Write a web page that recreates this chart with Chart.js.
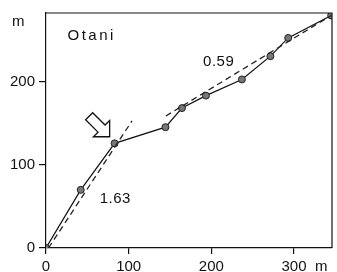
<!DOCTYPE html>
<html>
<head>
<meta charset="utf-8">
<script src="https://cdn.jsdelivr.net/npm/chart.js@4/dist/chart.umd.min.js"></script>
<style>
html,body{margin:0;padding:0;background:#fff;}
#wrap{width:337px;height:272px;position:relative;}
</style>
</head>
<body>
<div id="wrap"><canvas id="c" width="337" height="272"></canvas></div>
<script>
// Measured series (distance m vs. m)
const xValues = [0, 42, 83, 144.5, 164.5, 193.5, 237, 271.5, 293, 345];
const yValues = [0, 70, 126, 145.5, 168.5, 183.5, 203, 231, 253, 280];
// Fitted dashed lines
const fit1X = [3, 104];
const fit1Y = [0, 153];
const fit2X = [145, 345];
const fit2Y = [159, 280];
// Tick labels
const xTickLabels = ['0', '100', '200', '300'];
const yTickLabels = ['0', '100', '200'];
// Annotation texts
const titleText = 'Otani';
const slope1Label = '1.63';
const slope2Label = '0.59';
const unitLabel = 'm';

const FONT = '"Liberation Sans", Arial, sans-serif';

function pts(xs, ys){ return xs.map((x,i)=>({x:x,y:ys[i]})); }

const annotPlugin = {
  id:'annot',
  afterDraw(chart){
    const ctx = chart.ctx, xs = chart.scales.x, ys = chart.scales.y, a = chart.chartArea;
    ctx.save();
    // frame (top and right)
    ctx.strokeStyle = '#111'; ctx.lineWidth = 1.2;
    ctx.beginPath();
    ctx.moveTo(a.left, a.top); ctx.lineTo(a.right, a.top); ctx.lineTo(a.right, a.bottom);
    ctx.stroke();
    ctx.fillStyle = '#111';
    ctx.font = '15px ' + FONT;
    ctx.textBaseline = 'middle';
    ctx.textAlign = 'left';
    // title
    ctx.letterSpacing = '2.5px';
    ctx.fillText(titleText, xs.getPixelForValue(26), ys.getPixelForValue(256));
    ctx.letterSpacing = '0.5px';
    ctx.fillText(slope2Label, xs.getPixelForValue(190), ys.getPixelForValue(224));
    ctx.fillText(slope1Label, xs.getPixelForValue(65), ys.getPixelForValue(59));
    ctx.letterSpacing = '0px';
    // units
    ctx.fillText(unitLabel, 12, ys.getPixelForValue(272));
    ctx.fillText(unitLabel, xs.getPixelForValue(300) + 21, a.bottom + 19);
    // hollow arrow pointing at the break point
    const tx = xs.getPixelForValue(77), ty = ys.getPixelForValue(134);
    const d = [Math.SQRT1_2, Math.SQRT1_2], p = [Math.SQRT1_2, -Math.SQRT1_2];
    const shape = [[0,0],[-11.5,11.5],[-11.5,5],[-29,5],[-29,-5],[-11.5,-5],[-11.5,-11.5]];
    ctx.beginPath();
    shape.forEach(([al,pe],i)=>{
      const X = tx + al*d[0] + pe*p[0], Y = ty + al*d[1] + pe*p[1];
      if(i===0) ctx.moveTo(X,Y); else ctx.lineTo(X,Y);
    });
    ctx.closePath();
    ctx.fillStyle = '#fff'; ctx.fill();
    ctx.strokeStyle = '#111'; ctx.lineWidth = 1.3; ctx.stroke();
    ctx.restore();
  }
};

function fixTicks(values){
  return function(scale){ scale.ticks = values.map(v=>({value:Number(v)})); };
}

new Chart(document.getElementById('c'), {
  type:'scatter',
  data:{
    datasets:[
      {data:pts(fit1X, fit1Y), showLine:true, borderColor:'#222', borderWidth:1.3, borderDash:[6,4], pointRadius:0, fill:false},
      {data:pts(fit2X, fit2Y), showLine:true, borderColor:'#222', borderWidth:1.3, borderDash:[6,4], pointRadius:0, fill:false},
      {data:pts(xValues, yValues), showLine:true, borderColor:'#111', borderWidth:1.2,
       pointRadius:3.5, pointBackgroundColor:'#777', pointBorderColor:'#222', pointBorderWidth:1, fill:false}
    ]
  },
  options:{
    responsive:false, animation:false,
    layout:{padding:{top:12, right:2, left:0, bottom:0}},
    plugins:{legend:{display:false}, tooltip:{enabled:false}},
    scales:{
      x:{type:'linear', min:0, max:346,
        afterBuildTicks: fixTicks(xTickLabels),
        afterFit(s){ s.height = 24; },
        grid:{drawOnChartArea:false, drawTicks:true, tickLength:6, color:'#111', lineWidth:1.2},
        border:{display:true, color:'#111', width:1.2},
        ticks:{color:'#111', font:{family:FONT, size:15}, padding:4, maxRotation:0,
          callback:(v)=>xTickLabels.includes(String(v)) ? String(v) : ''}
      },
      y:{type:'linear', min:0, max:283,
        afterBuildTicks: fixTicks(yTickLabels),
        afterFit(s){ s.width = 46; },
        grid:{drawOnChartArea:false, drawTicks:true, tickLength:7, color:'#111', lineWidth:1.2},
        border:{display:true, color:'#111', width:1.2},
        ticks:{color:'#111', font:{family:FONT, size:15}, padding:4,
          callback:(v)=>yTickLabels.includes(String(v)) ? String(v) : ''}
      }
    }
  },
  plugins:[annotPlugin]
});
</script>
</body>
</html>
